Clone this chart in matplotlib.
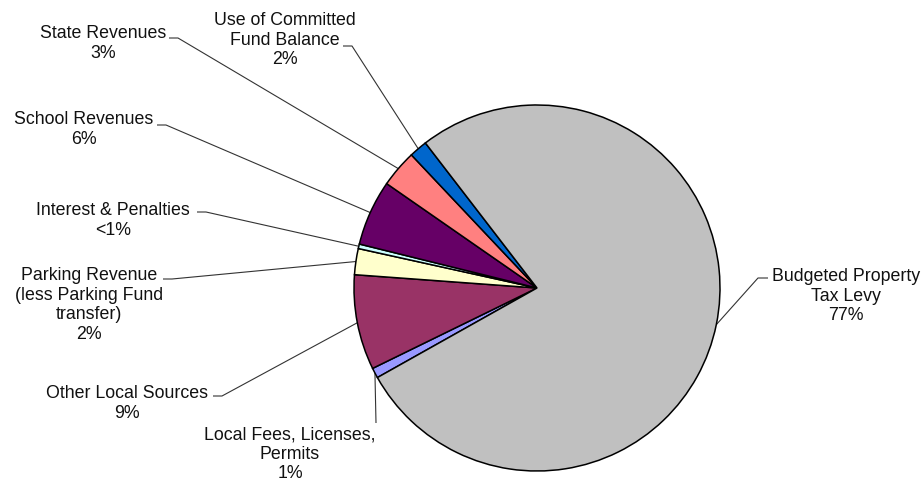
import numpy as np
import matplotlib
matplotlib.use("Agg")
import matplotlib.pyplot as plt

# Revenue sources, listed clockwise starting from the lower-left wedge
categories = [
    "Local Fees, Licenses,\nPermits",
    "Other Local Sources",
    "Parking Revenue\n(less Parking Fund\ntransfer)",
    "Interest & Penalties",
    "School Revenues",
    "State Revenues",
    "Use of Committed\nFund Balance",
    "Budgeted Property\nTax Levy",
]
shares = [0.9, 8.4, 2.3, 0.4, 5.8, 3.3, 1.6, 77.3]
pct_labels = ["1%", "9%", "2%", "<1%", "6%", "3%", "2%", "77%"]
colors = ["#9999FF", "#993366", "#FFFFCC", "#CCFFFF",
          "#660066", "#FF8080", "#0066CC", "#C0C0C0"]

W, H = 924, 482
CX, CY, R = 537, 288, 183  # pie centre and radius in pixels

fig = plt.figure(figsize=(W / 100, H / 100), dpi=100)
ax = fig.add_axes([0, 0, 1, 1])


def px(x, y):
    """Pixel position (origin top-left) to data units."""
    return (x - CX) / R, (CY - y) / R


wedges, _ = ax.pie(
    shares, colors=colors, startangle=209.3, counterclock=False,
    radius=1.0, center=(0, 0),
    wedgeprops=dict(edgecolor="black", linewidth=1.1),
)
ax.set_xlim((0 - CX) / R, (W - CX) / R)
ax.set_ylim((CY - H) / R, (CY - 0) / R)
ax.set_aspect("equal")
ax.axis("off")

# label block: (centre x, top y) and leader start point (x, y), in pixels
label_pos = [
    (290, 426, (376, 423), "v"),
    (127, 385, (213, 396), "l"),
    (89, 267, (163, 279), "l"),
    (113, 202, (197, 212), "l"),
    (84, 111, (157, 125), "l"),
    (103, 25, (169, 38), "l"),
    (285, 12, (343, 46), "l"),
    (846, 268, (768, 278), "r"),
]

font = dict(family=["Liberation Sans", "DejaVu Sans"], size=12.8, color="#111111")

for w, name, pct, (tx, ty, (lx, ly), side) in zip(wedges, categories, pct_labels, label_pos):
    ax.text(*px(tx, ty), f"{name}\n{pct}", ha="center", va="top",
            multialignment="center", linespacing=1.2, **font)
    mid = np.deg2rad((w.theta1 + w.theta2) / 2)
    ex, ey = np.cos(mid), np.sin(mid)
    sx, sy = px(lx, ly)
    if side == "l":
        kx, ky = px(lx + 9, ly)
        xs, ys = [sx, kx, ex], [sy, ky, ey]
    elif side == "r":
        kx, ky = px(lx - 10, ly)
        xs, ys = [sx, kx, ex], [sy, ky, ey]
    else:
        xs, ys = [sx, ex], [sy, ey]
    ax.plot(xs, ys, color="#333333", linewidth=0.8, solid_capstyle="butt", zorder=0.5)

fig.savefig("out.png", dpi=100, facecolor="white")
